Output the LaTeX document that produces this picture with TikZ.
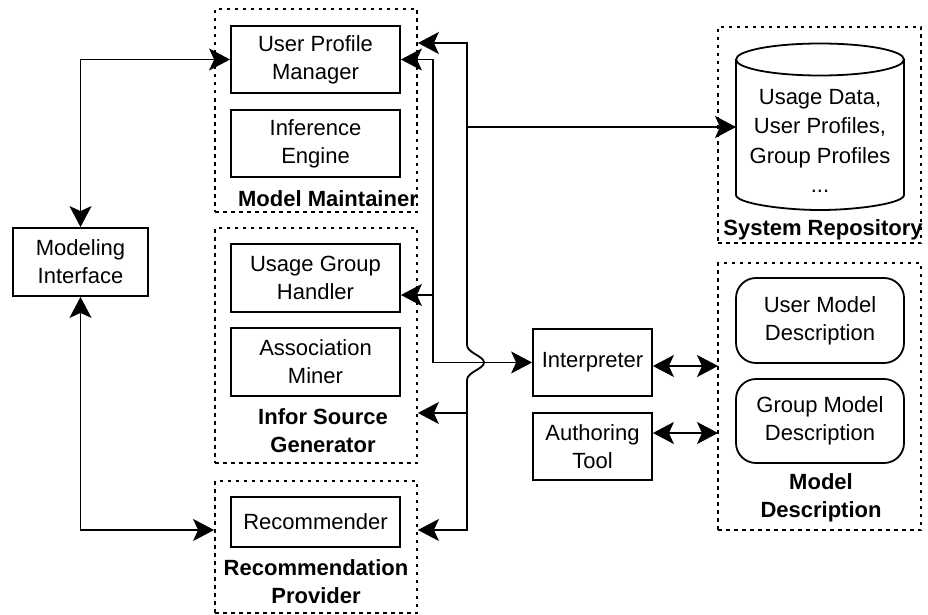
\documentclass[tikz,border=0pt]{standalone}
\usepackage{fontspec}
\setmainfont{Liberation Sans}
\usetikzlibrary{arrows.meta}

\begin{document}
\begin{tikzpicture}[x=1pt,y=-1pt,
  >={Stealth[length=21pt,width=22pt,inset=5pt]},
  every node/.style={font=\fontsize{22}{28}\selectfont},
  box/.style={draw, line width=1.8pt, inner sep=0pt, align=center,
    minimum width=169pt, minimum height=67pt},
  roundbox/.style={box, rounded corners=20pt, minimum width=168pt},
  group/.style={draw, line width=1.8pt, dash pattern=on 3.5pt off 4.5pt,
    inner sep=0pt, minimum width=202pt},
  grouplabel/.style={align=center, inner sep=0pt,
    font=\fontsize{22}{28}\selectfont\bfseries},
  conn/.style={line width=1.8pt}
]
\useasboundingbox (0,0) rectangle (928,615);

% dotted component groups
\node[group, minimum height=203pt] (mm) at (316,110.5) {};
\node[group, minimum height=235pt] (isg) at (316,345.5) {};
\node[group, minimum height=132pt] (rp) at (316,547) {};
\node[group, minimum width=203pt, minimum height=216pt] (sr) at (819.5,135) {};
\node[group, minimum width=203pt, minimum height=267pt] (md) at (819.5,396.5) {};

\node[grouplabel] (mmlabel) at (328,199) {Model Maintainer};
\node[grouplabel] (isglabel) at (323,431) {Infor Source\\Generator};
\node[grouplabel] (rplabel) at (316,581.5) {Recommendation\\Provider};
\node[grouplabel] (srlabel) at (823,230) {System Repository};
\node[grouplabel] (mdlabel) at (821,498) {Model\\Description};

% components
\node[box, minimum width=135pt, minimum height=68pt] (mi) at (80.5,262) {Modeling\\Interface};
\node[box] (upm) at (315.5,59.5) {User Profile\\Manager};
\node[box] (ie) at (315.5,143.5) {Inference\\Engine};
\node[box, minimum height=68pt] (ugh) at (315.5,278) {Usage Group\\Handler};
\node[box, minimum height=68pt] (am) at (315.5,362) {Association\\Miner};
\node[box, minimum height=50pt] (rec) at (315.5,522) {Recommender};
\node[box, minimum width=119pt] (interp) at (592.5,362.5) {Interpreter};
\node[box, minimum width=119pt] (at) at (592.5,446.5) {Authoring\\Tool};
\node[roundbox, minimum height=85pt] (umd) at (820,320.5) {User Model\\Description};
\node[roundbox, minimum height=84pt] (gmd) at (820,421) {Group Model\\Description};

% repository cylinder
\draw[conn] (736,59.5) -- (736,195)
  .. controls (736,203.3) and (782.6,210) .. (820,210)
  .. controls (857.4,210) and (904,203.3) .. (904,195) -- (904,59.5);
\draw[conn] (820,59.5) ellipse [x radius=84pt, y radius=16pt];
\node[align=center, inner sep=0pt, font=\fontsize{22}{29.5}\selectfont] (repotext) at (820,141)
  {Usage Data,\\User Profiles,\\Group Profiles\\...};
\coordinate (repo) at (736,127);

% bus points
\coordinate (a1) at (433,0);
\coordinate (a2) at (433,295);
\coordinate (b1) at (467,43);
\coordinate (b2) at (467,127);
\coordinate (b3) at (467,345);
\coordinate (b4) at (467,380);
\coordinate (b5) at (467,413);
\coordinate (b6) at (467,530);
\coordinate (c1) at (718,366);
\coordinate (c2) at (718,433);

% connectors
\draw[conn, <->] (mi.north) |- (upm.west);
\draw[conn, <->] (mi.south) |- (rp.west |- b6);

\draw[conn, <->] (upm.east) -| (a1 |- interp.west) -- (interp.west);
\draw[conn, ->] (a2) -- (ugh.east |- a2);

\draw[conn, <->] (mm.east |- b1) -- (b1) -- (b3)
  .. controls (467,353) and (484,356) .. (484,362.5)
  .. controls (484,369) and (467,372) .. (b4)
  -- (b6) -- (rp.east |- b6);
\draw[conn, ->] (b2) -- (repo);
\draw[conn, ->] (b5) -- (isg.east |- b5);

\draw[conn, <->] (interp.east |- c1) -- (c1);
\draw[conn, <->] (at.east |- c2) -- (c2);
\end{tikzpicture}
\end{document}
